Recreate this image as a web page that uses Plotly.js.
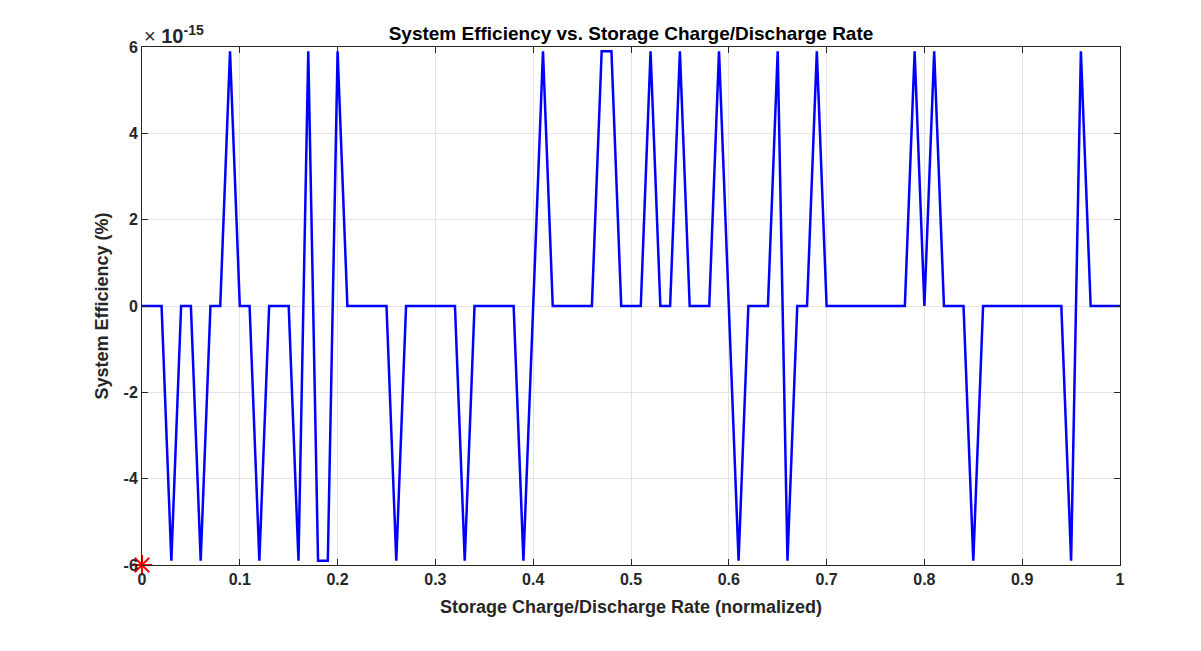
<!DOCTYPE html>
<html>
<head>
<meta charset="utf-8">
<script src="https://cdn.plot.ly/plotly-3.0.1.min.js"></script>
<style>html,body{margin:0;padding:0;background:#fff;}#chart{width:1201px;height:651px;}</style>
</head>
<body>
<div id="chart"></div>
<script>
// Storage charge/discharge rate (normalized), step 0.01
const rates = [];
for (let i = 0; i <= 100; i++) rates.push(i / 100);
// System efficiency in units of 1e-15 %
const P = 5.9, N = -5.9;
const efficiency = [
  0, 0, 0, N, 0, 0, N, 0, 0, P,      // 0.00-0.09
  0, 0, N, 0, 0, 0, N, P, N, N,      // 0.10-0.19
  P, 0, 0, 0, 0, 0, N, 0, 0, 0,      // 0.20-0.29
  0, 0, 0, N, 0, 0, 0, 0, 0, N,      // 0.30-0.39
  0, P, 0, 0, 0, 0, 0, P, P, 0,      // 0.40-0.49
  0, 0, P, 0, 0, P, 0, 0, 0, P,      // 0.50-0.59
  0, N, 0, 0, 0, P, N, 0, 0, P,      // 0.60-0.69
  0, 0, 0, 0, 0, 0, 0, 0, 0, P,      // 0.70-0.79
  0, P, 0, 0, 0, N, 0, 0, 0, 0,      // 0.80-0.89
  0, 0, 0, 0, 0, N, P, 0, 0, 0,      // 0.90-0.99
  0                                  // 1.00
];
const optX = [0];
const optY = [-6];
const xTicks = [0, 0.1, 0.2, 0.3, 0.4, 0.5, 0.6, 0.7, 0.8, 0.9, 1];
const xTickText = ['0', '0.1', '0.2', '0.3', '0.4', '0.5', '0.6', '0.7', '0.8', '0.9', '1'];
const yTicks = [-6, -4, -2, 0, 2, 4, 6];
const yTickText = ['-6', '-4', '-2', '0', '2', '4', '6'];

const font = 'Liberation Sans, Arial, Helvetica, sans-serif';
const axisCommon = {
  showline: true, linecolor: '#262626', linewidth: 1, mirror: 'ticks',
  ticks: 'inside', ticklen: 6, tickcolor: '#262626',
  showgrid: true, gridcolor: '#e3e3e3', gridwidth: 1, zeroline: false,
  tickfont: {family: font, size: 16, color: '#262626', weight: 'bold'}
};

const traces = [
  {x: rates, y: efficiency, type: 'scatter', mode: 'lines',
   line: {color: '#0000ff', width: 2.5}, hoverinfo: 'x+y', showlegend: false},
  {x: optX, y: optY, type: 'scatter', mode: 'markers', cliponaxis: false,
   marker: {symbol: 'asterisk-open', size: 17, color: '#ff0000', line: {color: '#ff0000', width: 2}},
   showlegend: false}
];

const layout = {
  width: 1201, height: 651,
  paper_bgcolor: '#ffffff', plot_bgcolor: '#ffffff',
  margin: {l: 142, r: 81, t: 47, b: 86, pad: 0},
  font: {family: font, color: '#262626'},
  title: {text: '<b>System Efficiency vs. Storage Charge/Discharge Rate</b>',
          font: {family: font, size: 19, color: '#000'}, x: 0.5254, xanchor: 'center', y: 0.949, yanchor: 'middle'},
  xaxis: Object.assign({}, axisCommon, {
    range: [0, 1], tickvals: xTicks, ticktext: xTickText,
    title: {text: '<b>Storage Charge/Discharge Rate (normalized)</b>', font: {family: font, size: 18, color: '#262626'}, standoff: 13}
  }),
  yaxis: Object.assign({}, axisCommon, {
    range: [-6, 6], tickvals: yTicks, ticktext: yTickText,
    title: {text: '<b>System Efficiency (%)</b>', font: {family: font, size: 18, color: '#262626'}, standoff: 10}
  }),
  annotations: [{
    xref: 'paper', yref: 'paper', x: 0, y: 1, xanchor: 'left', yanchor: 'bottom', yshift: -2,
    showarrow: false, text: '× <b>10<sup>-15</sup></b>',
    font: {family: font, size: 20, color: '#262626'}
  }]
};

Plotly.newPlot('chart', traces, layout, {displayModeBar: false, staticPlot: true});
</script>
</body>
</html>
